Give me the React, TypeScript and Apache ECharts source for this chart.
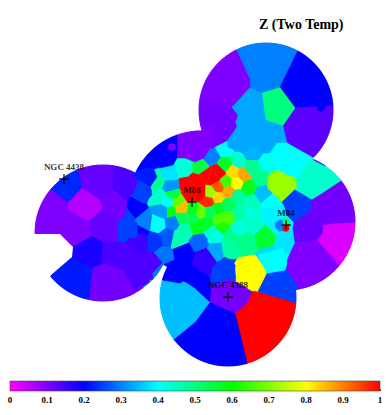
import React, { useEffect, useRef } from "react";
import * as echarts from "echarts";

type P = [number, number];

const titleText = "Z (Two Temp)";
const colorTicks = [0, 0.1, 0.2, 0.3, 0.4, 0.5, 0.6, 0.7, 0.8, 0.9, 1];
const rampColors = ["#ff00ff", "#0000ff", "#00ffff", "#00ff00", "#ffff00", "#ff0000"];

// the five pointings: centre x, centre y, radius
const pointings: [number, number, number][] = [
  [103, 233, 68],
  [201, 203, 72],
  [266, 110, 67],
  [287, 222, 68],
  [228, 298, 68],
];

// small bins: x, y, value
const smallBins: [number, number, number][] = [
  [224, 150, 0.4], [212, 157, 0.3], [238, 162, 0.44], [253, 153, 0.34], [225, 165, 0.57],
  [233, 172, 0.83], [244, 175, 0.87], [252, 168, 0.49], [268, 163, 0.41], [260, 178, 0.49],
  [248, 188, 0.58], [236, 183, 0.8], [226, 182, 0.65], [228, 192, 0.87], [218, 187, 0.93],
  [210, 193, 0.72], [218, 198, 0.83], [208, 202, 0.97], [218, 172, 1], [205, 175, 1],
  [196, 180, 1], [188, 185, 1], [200, 193, 1], [190, 194, 1], [213, 178, 1], [263, 195, 0.35],
  [238, 197, 0.48], [252, 203, 0.45], [270, 203, 0.4],
  [158, 182, 0.48], [170, 187, 0.32], [169, 173, 0.38], [185, 168, 0.43], [200, 168, 0.55],
  [160, 197, 0.44], [172, 195, 0.55], [168, 202, 0.4], [178, 202, 0.68], [170, 212, 0.58],
  [182, 208, 0.85], [163, 212, 0.32], [158, 224, 0.4], [143, 222, 0.3], [173, 222, 0.3],
  [182, 218, 0.53], [185, 231, 0.46], [193, 210, 0.58], [193, 218, 0.53], [201, 212, 0.68],
  [197, 227, 0.58], [207, 223, 0.57], [210, 212, 0.53], [218, 208, 0.57], [228, 205, 0.53],
  [220, 220, 0.66], [228, 218, 0.66], [222, 227, 0.62], [240, 212, 0.47], [252, 212, 0.43],
  [238, 228, 0.43], [253, 223, 0.44], [213, 233, 0.44], [230, 236, 0.49], [245, 243, 0.49],
  [228, 248, 0.47], [216, 250, 0.33], [267, 237, 0.56], [272, 213, 0.39], [278, 226, 0.39],
  [285, 242, 0.38], [272, 258, 0.37], [199, 242, 0.28],
  [205, 258, 0.16], [215, 235, 0.42], [183, 252, 0.2], [163, 255, 0.29], [168, 237, 0.27],
  [153, 242, 0.24], [178, 239, 0.46], [133, 210, 0.2], [127, 215, 0.25], [138, 232, 0.2],
];

// large bins: value and outline
const largeValues = [
  0.3, 0.2, 0.13, 0.1, 0.11, 0.5, 0.33, 0.33, 0.33,
  0.4, 0.44, 0.72, 0.25, 0.11, 0.12, 0.03, 0.1, 0.25, 1, 0.2, 0.35, 0.2, 0.11, 0.8, 0.25, 0.4,
  0.23, 0.12, 0.14, 0.06, 0.1, 0.11, 0.12, 0.1, 0.18, 0.22, 0.11, 0.14, 0.15, 0.25, 0.1,
  0.2, 0.22, 0.25,
];
const largeOutlines: P[][] = [
  [[228, 32], [307, 32], [280, 87], [262, 93], [250, 87], [250, 80]],
  [[307, 32], [345, 30], [345, 105], [295, 108], [280, 87]],
  [[295, 108], [345, 105], [345, 175], [317, 162], [287, 143], [283, 126]],
  [[228, 32], [250, 80], [250, 87], [232, 107], [190, 97], [190, 40]],
  [[190, 97], [232, 107], [238, 115], [235, 122], [237, 127], [228, 140], [212, 148], [190, 150]],
  [[262, 93], [280, 88], [295, 108], [283, 125], [265, 118]],
  [[232, 107], [250, 92], [262, 93], [265, 118], [263, 123], [255, 129], [237, 127], [238, 115]],
  [[228, 140], [237, 127], [253, 132], [253, 145], [243, 153], [228, 147]],
  [[253, 132], [255, 129], [263, 123], [283, 126], [287, 143], [275, 153], [263, 153], [253, 145]],
  [[277, 143], [287, 143], [317, 160], [310, 159], [297, 180], [280, 172], [270, 153]],
  [[310, 159], [345, 178], [312, 200], [295, 190], [297, 180]],
  [[277, 171], [295, 178], [297, 187], [282, 202], [268, 188], [268, 177]],
  [[282, 202], [295, 190], [312, 200], [310, 213], [295, 220], [292, 220]],
  [[312, 200], [340, 182], [365, 182], [365, 222], [323, 224], [310, 213]],
  [[308, 212], [323, 225], [323, 232], [317, 238], [295, 243], [293, 228], [295, 223]],
  [[323, 225], [365, 222], [365, 262], [338, 265], [317, 240], [323, 233]],
  [[295, 243], [317, 240], [340, 267], [320, 300], [295, 290], [285, 268], [288, 258]],
  [[258, 291], [267, 272], [285, 268], [300, 290], [298, 304], [280, 300]],
  [[253, 291], [258, 292], [298, 304], [320, 300], [320, 375], [250, 375], [234, 315], [237, 312], [248, 303]],
  [[210, 302], [235, 313], [250, 375], [160, 375], [173, 340], [195, 322]],
  [[150, 280], [162, 280], [180, 283], [183, 281], [186, 282], [195, 288], [210, 302], [195, 322], [173, 340], [150, 360]],
  [[163, 265], [175, 260], [195, 268], [210, 277], [211, 292], [210, 302], [195, 288], [186, 282], [183, 281], [180, 283], [162, 280]],
  [[212, 290], [227, 278], [250, 290], [247, 302], [235, 313], [210, 302]],
  [[235, 263], [238, 258], [255, 255], [267, 272], [258, 290], [250, 290], [238, 280], [235, 272]],
  [[212, 268], [225, 257], [235, 265], [235, 277], [227, 280], [212, 277]],
  [[258, 255], [283, 248], [287, 263], [285, 270], [267, 273]],
  [[45, 185], [60, 155], [73, 155], [80, 177], [82, 188], [68, 203]],
  [[73, 155], [113, 155], [113, 190], [100, 200], [82, 188], [80, 177]],
  [[113, 155], [133, 160], [133, 171], [138, 182], [133, 193], [127, 200], [113, 190]],
  [[68, 203], [82, 188], [100, 200], [103, 208], [88, 222], [68, 210]],
  [[45, 185], [68, 203], [68, 210], [88, 222], [62, 240], [60, 234], [25, 235], [25, 195]],
  [[100, 200], [127, 200], [125, 220], [118, 222], [103, 208]],
  [[88, 222], [102, 210], [118, 220], [118, 242], [103, 240], [92, 236]],
  [[62, 230], [68, 218], [88, 222], [92, 236], [73, 247]],
  [[73, 247], [92, 236], [103, 242], [102, 262], [93, 268], [73, 258]],
  [[50, 275], [72, 258], [93, 268], [89, 300], [85, 310], [35, 300]],
  [[89, 300], [93, 268], [105, 263], [123, 270], [135, 291], [135, 310], [85, 310]],
  [[103, 242], [118, 242], [128, 243], [135, 253], [153, 252], [162, 263], [135, 291], [123, 270], [105, 263], [102, 262]],
  [[127, 240], [140, 233], [147, 238], [147, 253], [135, 253]],
  [[118, 222], [127, 215], [137, 223], [137, 237], [127, 238], [118, 232]],
  [[176, 125], [215, 125], [213, 143], [210, 148], [204, 158], [195, 162], [185, 158], [177, 158], [177, 147]],
  [[177, 122], [177, 158], [173, 165], [160, 168], [153, 167], [133, 172], [125, 130]],
  [[133, 172], [153, 167], [157, 177], [150, 187], [137, 180]],
  [[137, 180], [150, 187], [152, 195], [143, 203], [133, 197], [138, 182]],
];

// tiny spots drawn last
const spotValues = [0.2, 0.1, 0.3, 0.5, 1];
const spotOutlines: P[][] = [
  [[318, 105], [324, 105], [325, 109], [321, 112], [317, 109]],
  [[169, 144], [175, 144], [176, 149], [172, 151], [168, 149]],
  [[275, 223], [280, 220], [287, 220], [289, 225], [285, 231], [279, 231], [275, 227]],
  [[283, 218], [288, 218], [290, 222], [288, 225], [283, 225]],
  [[283, 225], [289, 225], [289, 230], [286, 232], [283, 230]],
];

// white bite in the NGC 4438 pointing
const biteOutline: P[] = [[20, 234], [60, 234], [73, 247], [72, 257], [51, 275], [35, 305], [20, 305]];

const galaxyNames = ["NGC 4438", "M86", "M84", "NGC 4388"];
const galaxyX = [64, 192, 286, 228];
const galaxyY = [179, 202, 225, 297];

function colorOf(v: number): string {
  const t = Math.min(0.99999, Math.max(0, v)) * (rampColors.length - 1);
  const i = Math.floor(t);
  const f = t - i;
  const a = echarts.color.parse(rampColors[i]);
  const b = echarts.color.parse(rampColors[i + 1]);
  const m = [0, 1, 2].map((k) => Math.round(a[k] + (b[k] - a[k]) * f));
  return `rgb(${m[0]},${m[1]},${m[2]})`;
}

// clip polygon to side a*x + b*y <= c
function clipHalf(poly: P[], a: number, b: number, c: number): P[] {
  const out: P[] = [];
  for (let i = 0; i < poly.length; i++) {
    const p = poly[i];
    const q = poly[(i + 1) % poly.length];
    const dp = a * p[0] + b * p[1] - c;
    const dq = a * q[0] + b * q[1] - c;
    if (dp <= 0) out.push(p);
    if ((dp < 0 && dq > 0) || (dp > 0 && dq < 0)) {
      const t = dp / (dp - dq);
      out.push([p[0] + (q[0] - p[0]) * t, p[1] + (q[1] - p[1]) * t]);
    }
  }
  return out;
}

function clipDisk(poly: P[], d: [number, number, number]): P[] {
  let out = poly;
  const n = 90;
  for (let i = 0; i < n && out.length; i++) {
    const th = (i / n) * Math.PI * 2;
    const a = Math.cos(th);
    const b = Math.sin(th);
    out = clipHalf(out, a, b, a * d[0] + b * d[1] + d[2]);
  }
  return out;
}

// every large bin also contributes a site at its mean vertex, so that no gap shows another colour
const allSites: [number, number, number][] = [
  ...largeOutlines.map((o, i): [number, number, number] => {
    const inDisk = pointings.map((d) => clipDisk(o, d)).filter((p) => p.length > 2);
    const pts = inDisk.length ? inDisk.flat() : o;
    const mx = pts.reduce((s, q) => s + q[0], 0) / pts.length;
    const my = pts.reduce((s, q) => s + q[1], 0) / pts.length;
    return [mx, my, largeValues[i]];
  }),
  ...smallBins,
];

function voronoiCell(i: number): P[] {
  let poly: P[] = [[0, 0], [390, 0], [390, 415], [0, 415]];
  const [x, y] = allSites[i];
  allSites.forEach((o, j) => {
    if (j === i || !poly.length) return;
    const a = o[0] - x;
    const b = o[1] - y;
    if (a === 0 && b === 0) return;
    const c = (o[0] * o[0] + o[1] * o[1] - x * x - y * y) / 2;
    poly = clipHalf(poly, a, b, c);
  });
  return poly;
}

const cellShapes: { z: number; polys: P[][] }[] = [];
const addCell = (z: number, poly: P[]) => {
  cellShapes.push({ z, polys: pointings.map((d) => clipDisk(poly, d)).filter((p) => p.length > 2) });
};
allSites.forEach((s, i) => addCell(s[2], voronoiCell(i)));
largeOutlines.forEach((o, i) => addCell(largeValues[i], o));
spotOutlines.forEach((o, i) => addCell(spotValues[i], o));

export default function App() {
  const ref = useRef<HTMLDivElement>(null);
  useEffect(() => {
    document.body.style.margin = "0";
    const chart = echarts.init(ref.current!, null, { renderer: "svg" });
    const serif = "'Liberation Serif', 'Times New Roman', serif";
    chart.setOption({
      animation: false,
      backgroundColor: "#ffffff",
      title: {
        text: titleText,
        left: 254,
        top: 12,
        textStyle: { fontFamily: serif, fontSize: 14, fontWeight: "bold", color: "#000" },
      },
      grid: [
        { left: 0, right: 0, top: 0, bottom: 0 },
        { left: 10, width: 370, top: 381, height: 10 },
      ],
      xAxis: [
        { type: "value", gridIndex: 0, min: 0, max: 390, show: false },
        {
          type: "value",
          gridIndex: 1,
          min: 0,
          max: 1,
          interval: 0.1,
          axisLine: { show: false },
          axisTick: { show: true, inside: true, length: 2, lineStyle: { color: "#555", width: 1 } },
          splitLine: { show: false },
          axisLabel: {
            margin: 4,
            color: "#000",
            fontFamily: serif,
            fontSize: 9,
            fontWeight: "bold",
            hideOverlap: false,
            formatter: (v: number) => String(colorTicks.find((t) => Math.abs(t - v) < 1e-6) ?? v),
          },
        },
      ],
      yAxis: [
        { type: "value", gridIndex: 0, min: 0, max: 415, inverse: true, show: false },
        { type: "value", gridIndex: 1, min: 0, max: 1, show: false },
      ],
      series: [
        {
          type: "custom",
          xAxisIndex: 0,
          yAxisIndex: 0,
          clip: false,
          silent: true,
          data: cellShapes.map((c, i) => [i, c.z]),
          renderItem: (params: any, api: any) => {
            const c = cellShapes[params.dataIndex];
            const fill = colorOf(c.z);
            return {
              type: "group",
              children: c.polys.map((p) => ({
                type: "polygon",
                shape: { points: p.map((q) => api.coord(q)) },
                style: { fill, stroke: fill, lineWidth: 0.5 },
              })),
            };
          },
        },
        {
          type: "custom",
          xAxisIndex: 0,
          yAxisIndex: 0,
          clip: false,
          silent: true,
          data: [[0]],
          renderItem: (_p: any, api: any) => ({
            type: "polygon",
            shape: { points: biteOutline.map((q) => api.coord(q)) },
            style: { fill: "#fff" },
          }),
        },
        {
          type: "custom",
          xAxisIndex: 1,
          yAxisIndex: 1,
          silent: true,
          data: [[0, 1]],
          renderItem: (_p: any, api: any) => {
            const a = api.coord([0, 1]);
            const b = api.coord([1, 0]);
            return {
              type: "rect",
              shape: { x: a[0], y: a[1], width: b[0] - a[0], height: b[1] - a[1] },
              style: {
                fill: new echarts.graphic.LinearGradient(
                  0, 0, 1, 0,
                  rampColors.map((color, i) => ({ offset: i / (rampColors.length - 1), color }))
                ),
                stroke: "#444",
                lineWidth: 0.6,
              },
            };
          },
        },
        {
          type: "scatter",
          xAxisIndex: 0,
          yAxisIndex: 0,
          silent: true,
          symbol: "path://M-1 0H1M0 -1V1",
          symbolSize: 10,
          itemStyle: { color: "none", borderColor: "#000", borderWidth: 1.4 },
          label: {
            show: true,
            position: "top",
            distance: 0,
            color: "#000",
            fontFamily: serif,
            fontSize: 9,
            fontWeight: "bold",
            formatter: (p: any) => p.name,
          },
          data: galaxyNames.map((name, i) => ({ name, value: [galaxyX[i], galaxyY[i]] })),
        },
      ],
    });
    return () => chart.dispose();
  }, []);
  return <div ref={ref} style={{ width: 390, height: 415 }} />;
}
